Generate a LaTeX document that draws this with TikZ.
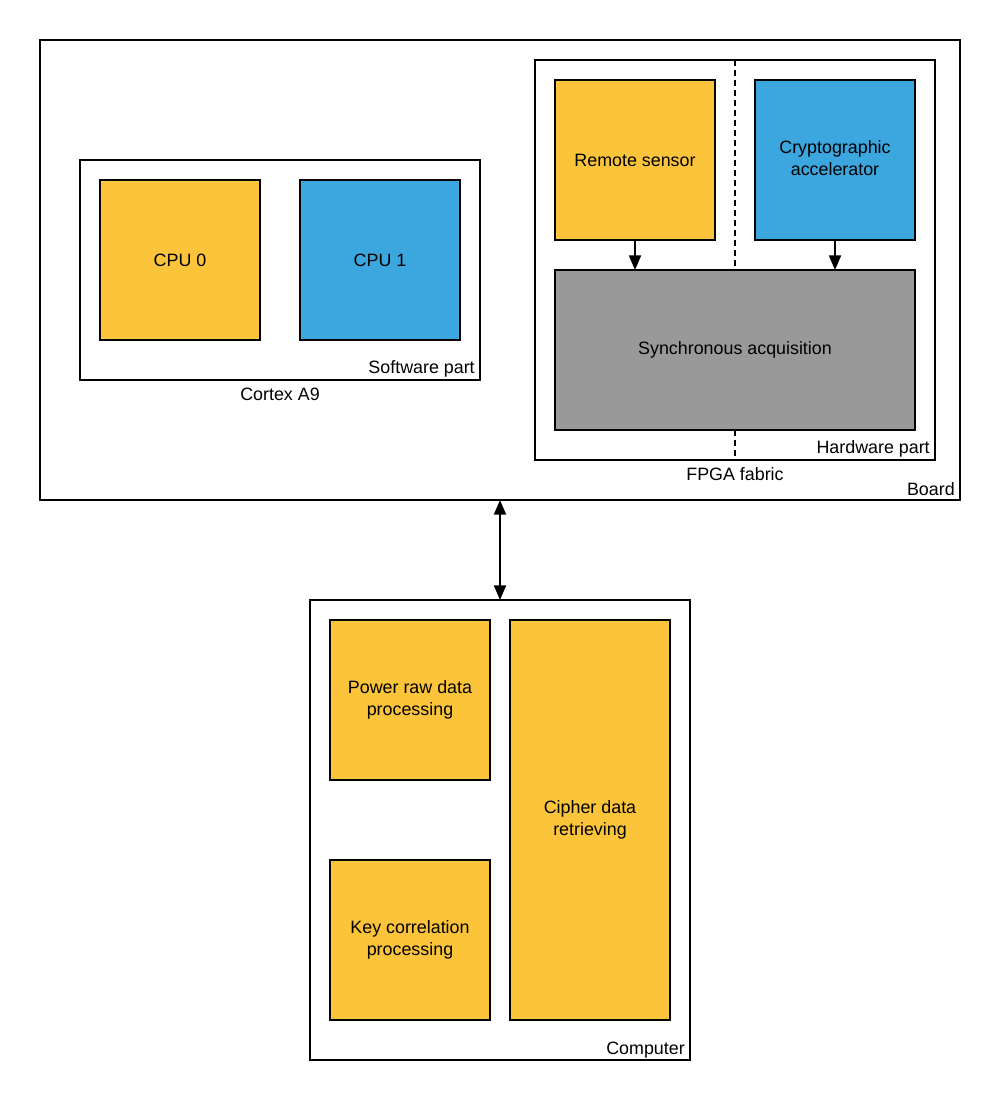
\documentclass[tikz,border=0pt]{standalone}
\usepackage{fontspec}
\setmainfont{Liberation Sans}
\usetikzlibrary{arrows.meta}
\definecolor{cyel}{HTML}{FBC43A}
\definecolor{cblu}{HTML}{3CA6DE}
\definecolor{cgry}{HTML}{999999}
\newcommand\mytwo[2]{\raisebox{3pt}{\begin{tabular}{@{}c@{}}#1\\#2\end{tabular}}}
\tikzset{
  box/.style={draw=black, line width=1.5pt, inner sep=0pt, outer sep=0pt, align=center, font=\fontsize{13.4pt}{16.5pt}\selectfont},
  sq/.style={box, minimum width=120pt, minimum height=120pt},
  lbl/.style={font=\fontsize{13.4pt}{16.5pt}\selectfont, inner sep=0pt},
  arr/.style={line width=1.5pt, -{Triangle[length=11pt,width=9pt]}},
  darr/.style={line width=1.5pt, {Triangle[length=11pt,width=9pt]}-{Triangle[length=11pt,width=9pt]}},
}
\begin{document}
\begin{tikzpicture}[x=0.75pt,y=-0.75pt]
\useasboundingbox (0,0) rectangle (1000,1100);
% board
\node[box, minimum width=690pt, minimum height=345pt] (board) at (500,270) {};
\node[lbl, anchor=east] (boardl) at (955,489) {Board};
% cortex
\node[box, minimum width=300pt, minimum height=165pt] (cortex) at (280,270) {};
\node[lbl, anchor=east] (swl) at (475,369) {Software part};
\node[lbl] (cortexl) at (280,394) {Cortex A9};
\node[sq, fill=cyel] (cpu0) at (180,260) {CPU 0};
\node[sq, fill=cblu] (cpu1) at (380,260) {CPU 1};
% fpga
\node[box, minimum width=300pt, minimum height=300pt] (fpga) at (735,260) {};
\node[lbl, anchor=east] (hwl) at (930,449) {Hardware part};
\node[lbl] (fpgal) at (735,474) {FPGA fabric};
\coordinate (dt) at (735,60);
\coordinate (db) at (735,460);
\node[sq, fill=cyel] (remote) at (635,160) {Remote sensor};
\node[sq, fill=cblu] (crypto) at (835,160) {\mytwo{Cryptographic}{accelerator}};
\node[box, fill=cgry, minimum width=270pt, minimum height=120pt] (sync) at (735,350) {Synchronous acquisition};
\draw[line width=1.5pt, dash pattern=on 4.5pt off 3pt] (dt) -- (sync.north);
\draw[line width=1.5pt, dash pattern=on 4.5pt off 3pt] (sync.south) -- (db);
\draw[arr] (remote.south) -- (remote.south |- sync.north);
\draw[arr] (crypto.south) -- (crypto.south |- sync.north);
% computer
\node[box, minimum width=285pt, minimum height=345pt] (comp) at (500,830) {};
\node[lbl, anchor=east] (compl) at (685,1050) {Computer};
\node[sq, fill=cyel] (power) at (410,700) {\mytwo{Power raw data}{processing}};
\node[sq, fill=cyel] (key) at (410,940) {\mytwo{Key correlation}{processing}};
\node[box, fill=cyel, minimum width=120pt, minimum height=300pt] (cipher) at (590,820) {\mytwo{Cipher data}{retrieving}};
\draw[darr] (board.south) -- (comp.north);
\end{tikzpicture}
\end{document}
